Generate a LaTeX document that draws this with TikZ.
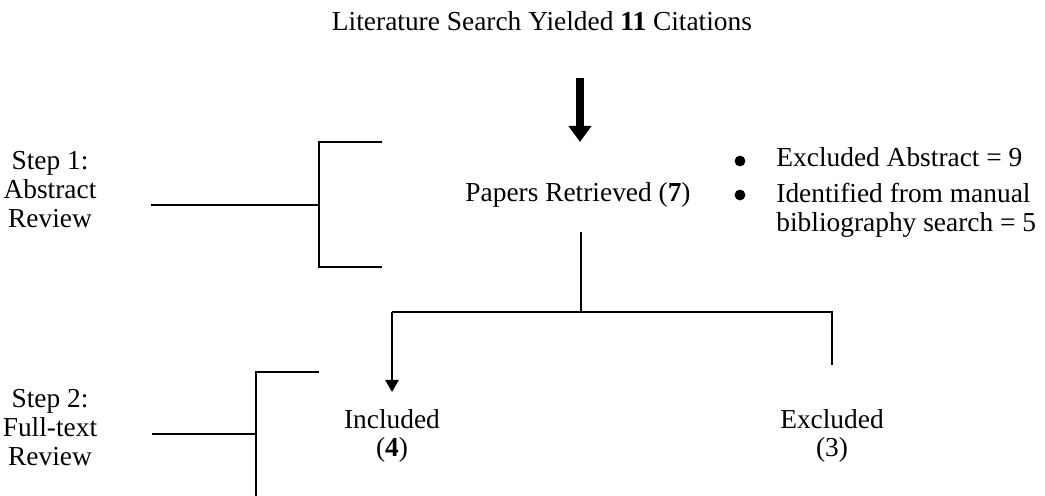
\documentclass[tikz,border=0pt]{standalone}
\usepackage{fontspec}
\setmainfont{Liberation Serif}
\usetikzlibrary{arrows.meta}
\begin{document}
\begin{tikzpicture}[x=0.5pt,y=-0.5pt,
  every node/.style={font=\fontsize{13.7}{15.5}\selectfont, inner sep=0pt},
  lbl/.style={anchor=base},
  lblw/.style={anchor=base west},
  dot/.style={circle, fill=black, minimum size=5.4pt},
  bracket/.style={line width=1pt, black},
  tree/.style={line width=1.3pt, black},
  bigarrow/.style={line width=3.6pt, -{Triangle[width=11pt,length=8pt]}},
  smallarrow/.style={line width=1.3pt, -{Triangle[width=6.5pt,length=6pt]}}]
\useasboundingbox (0,0) rectangle (1045,496);

% texts
\node[lbl] (title) at (542,31) {Literature Search Yielded \textbf{11} Citations};
\node[lbl] (papers) at (578,202) {Papers Retrieved (\textbf{7})};

\node[dot] (bul1) at (740,161) {};
\node[lblw] (ex1) at (776,167) {Excluded Abstract = 9};
\node[dot] (bul2) at (740,195) {};
\node[lblw] (id1) at (776,203) {Identified from manual};
\node[lblw] (id2) at (776,232) {bibliography search = 5};

\node[lbl] (s1a) at (50,170) {Step 1:};
\node[lbl] (s1b) at (50,199) {Abstract};
\node[lbl] (s1c) at (50,228) {Review};

\node[lbl] (s2a) at (50,408) {Step 2:};
\node[lbl] (s2b) at (50,437) {Full-text};
\node[lbl] (s2c) at (50,466) {Review};

\node[lbl] (inc) at (392,429) {Included};
\node[lbl] (incn) at (392,457) {(\textbf{4})};
\node[lbl] (exc) at (832,429) {Excluded};
\node[lbl] (excn) at (832,457) {(3)};

% thick arrow
\coordinate (arrtop) at (580,78);
\coordinate (arrtip) at (580,142);
\draw[bigarrow] (arrtop) -- (arrtip);

% bracket 1
\coordinate (b1top) at (382,142);
\coordinate (b1tl) at (319,142);
\coordinate (b1bl) at (319,267);
\coordinate (b1bot) at (382,267);
\coordinate (b1mid) at (319,205);
\coordinate (b1left) at (151,205);
\draw[bracket] (b1top) -- (b1tl) -- (b1bl) -- (b1bot);
\draw[bracket] (b1left) -- (b1mid);

% bracket 2
\coordinate (b2top) at (319,372);
\coordinate (b2tl) at (256,372);
\coordinate (b2bot) at (256,497);
\coordinate (b2mid) at (256,434);
\coordinate (b2left) at (152,434);
\draw[bracket] (b2top) -- (b2tl) -- (b2bot);
\draw[bracket] (b2left) -- (b2mid);

% tree
\coordinate (trunk) at (581,232);
\coordinate (junc) at (581,312);
\coordinate (lcorner) at (392,312);
\coordinate (rcorner) at (832,312);
\coordinate (rend) at (832,365);
\coordinate (inctip) at (392,392);
\draw[tree] (trunk) -- (junc);
\draw[tree] (lcorner) -- (rcorner) -- (rend);
\draw[smallarrow] (lcorner) -- (inctip);
\end{tikzpicture}
\end{document}
